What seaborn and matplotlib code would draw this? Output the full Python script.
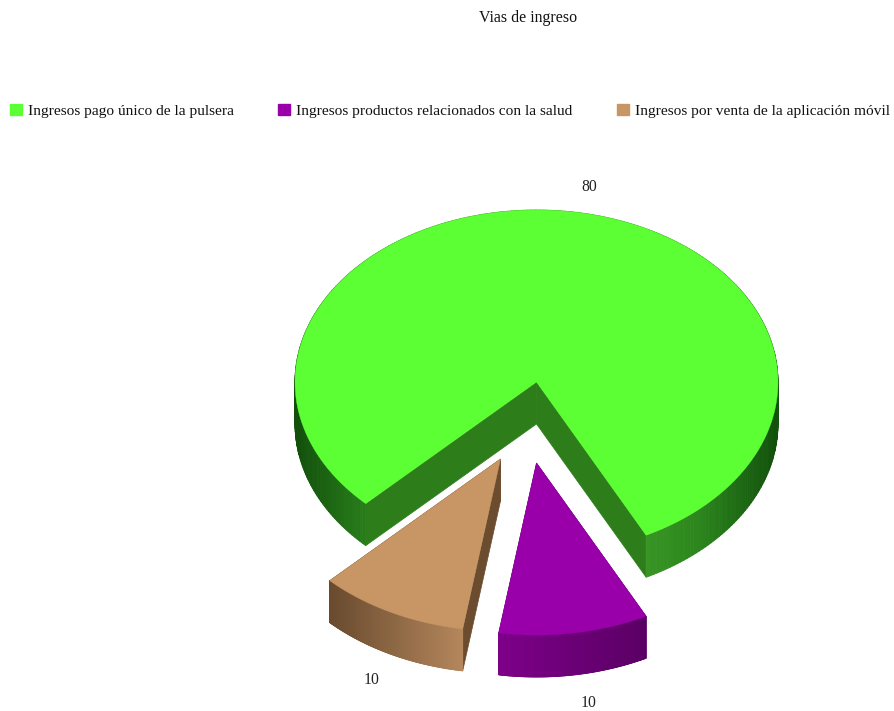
import numpy as np
import matplotlib.pyplot as plt
from matplotlib.collections import PolyCollection
from matplotlib.patches import Patch
import seaborn as sns

# Data
labels = ["Ingresos pago único de la pulsera",
          "Ingresos productos relacionados con la salud",
          "Ingresos por venta de la aplicación móvil"]
values = [80, 10, 10]
title = "Vias de ingreso"

# Look of the pie
top_colors = ["#5cff33", "#9900aa", "#c89664"]
cut_colors = ["#2e7d1b", "#5c0066", "#6b4c2f"]
wall_ramps = [["#114f0b", "#2c861d", "#3a9a26", "#3d9c27", "#3d9c27", "#2c861d", "#114f0b"],
              ["#7d0089", "#5a0064"],
              ["#684a2e", "#b5875c"]]
offsets = [(0, 0), (0, 81), (-36, 77)]
label_nudge = [(9, 0), (9, 3), (-3, 3)]
cx, cy, rx, ry = 536.5, 382, 241.5, 172
depth = 42
start_angle = 225

sns.set_theme(style="white")
plt.rcParams["font.family"] = ["Liberation Serif", "DejaVu Serif"]

fig, ax = plt.subplots(figsize=(8.95, 7.11), dpi=100)
ax.set_position([0, 0, 1, 1])
ax.set_xlim(0, 895)
ax.set_ylim(711, 0)
ax.axis("off")


def arc_points(x0, y0, a1, a2, n):
    t = np.radians(np.linspace(a1, a2, n))
    return np.column_stack([x0 + rx * np.cos(t), y0 - ry * np.sin(t)])


total = sum(values)
angle = start_angle
for i, v in enumerate(values):
    sweep = 360 * v / total
    a1, a2 = angle - sweep, angle
    angle = a1
    x0, y0 = cx + offsets[i][0], cy + offsets[i][1]
    arc = arc_points(x0, y0, a1, a2, 300)
    apex = np.array([x0, y0])
    shift = np.array([0, depth])

    # cut faces
    for end in (arc[0], arc[-1]):
        face = [apex, end, end + shift, apex + shift]
        ax.fill(*zip(*face), color=cut_colors[i], lw=0.5, zorder=i * 3 + 1)

    # outer wall, shaded along x
    xs = arc[:, 0]
    ramp = sns.blend_palette(wall_ramps[i], 256)
    pos = (xs - xs.min()) / (xs.max() - xs.min())
    quads, cols = [], []
    for p, q, f in zip(arc[:-1], arc[1:], pos[:-1]):
        quads.append([p, q, q + shift, p + shift])
        cols.append(ramp[int(f * 255)])
    ax.add_collection(PolyCollection(quads, facecolors=cols, edgecolors=cols,
                                     linewidths=0.6, zorder=i * 3 + 2))

    # top face
    ax.fill(*zip(*np.vstack([apex, arc])), color=top_colors[i], lw=0.3,
            zorder=i * 3 + 3)

    # value label
    mid = np.radians((a1 + a2) / 2)
    lx = x0 + 1.15 * rx * np.cos(mid) + label_nudge[i][0]
    ly = y0 - 1.15 * ry * np.sin(mid) + label_nudge[i][1]
    if np.sin(mid) < 0:
        ly += depth
    ax.text(lx, ly, str(v), ha="center", va="center", fontsize=11.3,
            color="#222222", zorder=20)

ax.text(528.5, 18, title, ha="center", va="center", fontsize=11.4, color="#111111")

handles = [Patch(facecolor=c, edgecolor=c) for c in top_colors]
ax.legend(handles, labels, ncol=3, frameon=False, fontsize=11.1,
          loc="center left", bbox_to_anchor=(0.011, 0.844),
          handlelength=0.77, handleheight=0.77, handletextpad=0.42,
          columnspacing=2.85, borderpad=0, borderaxespad=0,
          labelcolor="#111111")

fig.savefig("out.png", dpi=100)
